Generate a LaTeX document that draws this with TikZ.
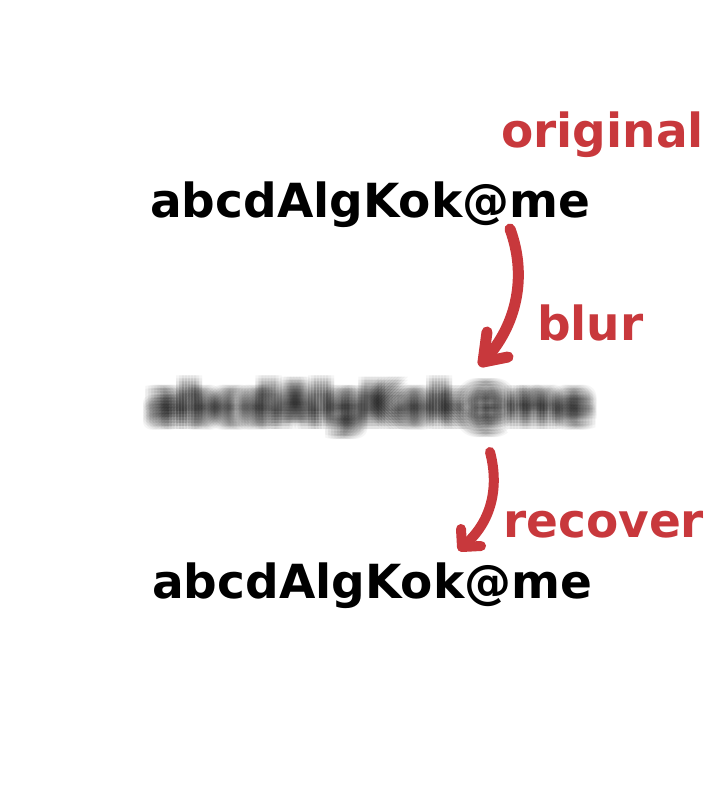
\documentclass[tikz,border=0pt]{standalone}
\usepackage{fontspec}
\setmainfont{DejaVu Sans}
\definecolor{accent}{RGB}{200,56,60}
\tikzset{
  word/.style={anchor=base west,inner sep=0pt,font=\fontsize{47}{50}\selectfont\bfseries},
  label/.style={word,text=accent},
  curvearrow/.style={draw=accent,line width=11pt,line cap=round,line join=round},
}
\begin{document}
\begin{tikzpicture}[x=1pt,y=-1pt]
\useasboundingbox (0,0) rectangle (727,786);
% original
\node[label] (lorig) at (501,148) {original};
\node[word] (orig) at (150,218) {abcdAlgKok@me};
% blurred
\foreach \dx in {-9,-6,...,9}{
  \foreach \dy in {-9,-6,...,9}{
    \node[word,text=black,opacity=0.04] at (150+\dx,420+\dy) {abcdAlgKok@me};
  }
}
\coordinate (blurred) at (375,405);
\node[label] (lblur) at (537,340) {blur};
% recovered
\node[label] (lrec) at (503,537) {recover};
\node[word] (rec) at (152,598) {abcdAlgKok@me};
% arrows
\coordinate (a1s) at (510,229);
\coordinate (a1e) at (483,362);
\coordinate (a1l) at (487,332);
\coordinate (a1r) at (508,357);
\draw[curvearrow] (a1s) .. controls (527,275) and (518,325) .. (a1e);
\draw[curvearrow] (a1l) -- (a1e) -- (a1r);
\coordinate (a2s) at (490,452);
\coordinate (a2e) at (462,547);
\coordinate (a2l) at (461,529);
\coordinate (a2r) at (481,546);
\draw[curvearrow,line width=10pt] (a2s) .. controls (500,490) and (490,525) .. (a2e);
\draw[curvearrow,line width=10pt] (a2l) -- (a2e) -- (a2r);
\end{tikzpicture}
\end{document}
